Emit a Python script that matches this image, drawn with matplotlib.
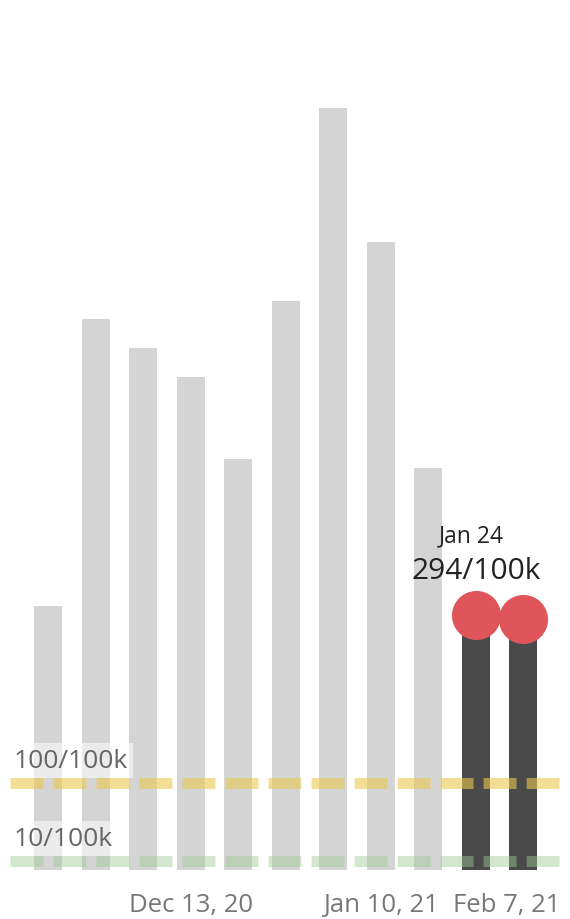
import matplotlib
matplotlib.use("Agg")
import matplotlib.pyplot as plt

# weekly case rate per 100k
weeks = ["Nov 22", "Nov 29", "Dec 6", "Dec 13", "Dec 20", "Dec 27",
         "Jan 3", "Jan 10", "Jan 17", "Jan 24", "Jan 31"]
rates = [305, 636, 603, 569, 475, 657, 880, 725, 464, 294, 290]
recent = [False] * 9 + [True, True]

thresholds = [100, 10]
threshold_labels = ["100/100k", "10/100k"]
threshold_colors = ["#ebc850", "#9ccb92"]
threshold_alpha = [0.6, 0.45]

tick_pos = [3, 7, 9.65]
tick_labels = ["Dec 13, 20", "Jan 10, 21", "Feb 7, 21"]

plt.rcParams['font.family'] = ['Open Sans', 'DejaVu Sans']

fig = plt.figure(figsize=(5.7, 9.2), dpi=100)
ax = fig.add_axes([0, 49 / 920, 1, 871 / 920])

x = list(range(len(rates)))
ax.bar(x, rates, width=0.59, color="#d4d4d4", zorder=1)

# dark bars + dots for the latest weeks
rx = [i for i in x if recent[i]]
ry = [rates[i] for i in rx]
ax.bar(rx, ry, width=0.59, color="#4a4a4a", zorder=2)
ax.scatter(rx, ry, s=1250, color="#e05559", zorder=5, linewidths=0)

# threshold lines
for val, lab, col, al in zip(thresholds, threshold_labels, threshold_colors, threshold_alpha):
    ax.axhline(val, xmin=0.018, xmax=0.99, color=col, alpha=al, lw=7.9,
               dashes=(3.0, 0.92), solid_capstyle='butt', dash_capstyle='butt', zorder=4)
    ax.text(-0.72, val + 12, lab, fontsize=19, color="#666666", ha='left', va='bottom',
            zorder=3,
            bbox=dict(boxstyle='square,pad=0.2', facecolor='white', alpha=0.55, edgecolor='none'))

# annotation for Jan 24
i = weeks.index("Jan 24")
ax.annotate(f"{rates[i]}/100k", xy=(i, rates[i]), xytext=(0, 27), textcoords='offset points',
            ha='center', va='baseline', fontsize=21.5, color="#222222", zorder=6)
ax.annotate(weeks[i], xy=(i, rates[i]), xytext=(-3.5, 53), textcoords='offset points',
            ha='center', va='baseline', fontsize=16.5, color="#222222", zorder=6)

ax.set_xlim(-1.01, 10.98)
ax.set_ylim(0, 1006)
ax.set_xticks(tick_pos)
ax.set_xticklabels(tick_labels, fontsize=18.5, color="#777777")
ax.tick_params(axis='x', length=0, pad=16)
ax.set_yticks([])
for s in ax.spines.values():
    s.set_visible(False)

fig.savefig("out.png", dpi=100)
